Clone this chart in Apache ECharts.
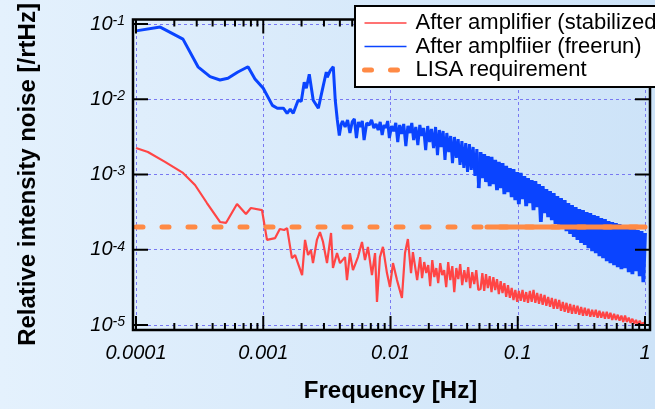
<!DOCTYPE html>
<html><head><meta charset="utf-8">
<script src="https://cdn.jsdelivr.net/npm/echarts@6/dist/echarts.min.js"></script>
<style>html,body{margin:0;padding:0;}#c{width:655px;height:409px;}</style>
</head><body><div id="c"></div>
<script>
// ---------- DATA ----------
const seriesNames = ['After amplifier (stabilized)', 'After amplfiier (freerun)', 'LISA requirement'];
const xTickLabels = ['0.0001', '0.001', '0.01', '0.1', '1'];
const xMajorTicks = [1e-4, 1e-3, 1e-2, 1e-1, 1];
const yMajorTicks = [1e-5, 1e-4, 1e-3, 1e-2, 1e-1];
const minorMultipliers = [2, 3, 4, 5, 6, 7, 8, 9];
const lisaLevel = 2e-4;
const lisaFreqs = [1e-4, 1];
const lisaDenseFreqs = [0.0573, 1];

// stabilized, low-frequency part [freq Hz, RIN /rtHz]
const stabilizedLow = [
[1.0e-4,2.25e-3],[1.24e-4,1.99e-3],[1.69e-4,1.47e-3],[2.34e-4,1.05e-3],[2.91e-4,7.25e-4],[3.61e-4,4.18e-4],
[4.57e-4,2.34e-4],[5.09e-4,2.27e-4],[6.22e-4,4.05e-4],[7.31e-4,2.98e-4],[8.0e-4,3.59e-4],[9.77e-4,3.37e-4],
[1.07e-3,1.35e-4],[1.24e-3,1.43e-4],[1.35e-3,1.89e-4],[1.46e-3,1.83e-4],[1.54e-3,1.94e-4],[1.68e-3,7.75e-5],
[1.78e-3,8.5e-5],[2.02e-3,4.6e-5],[2.13e-3,1.35e-4],[2.25e-3,8.5e-5],[2.37e-3,9.9e-5],[2.46e-3,6.65e-5],
[2.64e-3,1.35e-4],[2.79e-3,1.72e-4],[2.95e-3,1.27e-4],[3.17e-3,6.65e-5],[3.41e-3,1.67e-4],[3.53e-3,5.71e-5],
[3.8e-3,9.03e-5],[4.01e-3,6.65e-5],[4.39e-3,7.99e-5],[4.55e-3,3.95e-5],[4.8e-3,9.03e-5],[5.07e-3,5.37e-5],
[5.55e-3,7.99e-5],[5.97e-3,1.27e-4],[6.3e-3,7.29e-5],[6.65e-3,1.09e-4],[7.15e-3,4.6e-5],[7.56e-3,9.03e-5],
[7.83e-3,2.03e-5],[8.26e-3,7.99e-5],[8.72e-3,1.09e-4],[9.38e-3,4.9e-5],[9.9e-3,3.19e-5],[1.046e-2,6.65e-5],
[1.125e-2,3.95e-5],[1.23e-2,2.29e-5],[1.3e-2,9.03e-5],[1.37e-2,1.39e-4],[1.45e-2,4.9e-5],[1.5e-2,9.31e-5],
[1.62e-2,3.95e-5],[0.0171,7.99e-5],[0.0177,4.2e-5],[0.0184,6.86e-5],[0.0191,4.9e-5],[0.0198,6.26e-5],
[0.0205,3.29e-5],[0.0213,7.29e-5],[0.0221,4.33e-5],[0.0229,5.71e-5],[0.0237,3.6e-5],[0.0246,6.65e-5],
[0.0255,4.6e-5],[0.0264,5.37e-5],[0.0274,3.19e-5],[0.0284,6.86e-5],[0.0295,3.95e-5],[0.0306,6.07e-5],
[0.0317,2.74e-5],[0.0329,5.71e-5],[0.0341,4.07e-5],[0.0353,6.45e-5],[0.0366,3.39e-5],[0.038,5.37e-5],
[0.0394,3.71e-5],[0.0408,5.88e-5],[0.0423,3.1e-5],[0.0439,5.05e-5],[0.0455,3.49e-5],[0.0472,5.37e-5],
[0.049,2.92e-5]
];

// freerun, low-frequency part [freq Hz, RIN /rtHz]
const freerunLow = [
[1.0e-4,8.1e-2],[1.55e-4,9.1e-2],[2.34e-4,6.3e-2],[3.07e-4,2.7e-2],[3.82e-4,2.0e-2],[4.57e-4,1.8e-2],
[5.28e-4,1.9e-2],[6.32e-4,2.3e-2],[7.59e-4,2.7e-2],[8.61e-4,1.86e-2],[1.0e-3,1.4e-2],[1.18e-3,8.3e-3],
[1.29e-3,7.6e-3],[1.44e-3,7.6e-3],[1.54e-3,6.5e-3],[1.63e-3,7.4e-3],[1.72e-3,6.5e-3],[1.88e-3,9.7e-3],
[1.99e-3,9.4e-3],[2.1e-3,1.68e-2],[2.18e-3,1.4e-2],[2.3e-3,2.15e-2],[2.47e-3,9.7e-3],[2.71e-3,7.6e-3],
[2.91e-3,1.32e-2],[3.13e-3,2.3e-2],[3.18e-3,1.96e-2],[3.36e-3,2.4e-2],[3.55e-3,2.7e-2],[3.68e-3,9.7e-3],
[3.82e-3,5.3e-3],[3.96e-3,3.3e-3],
[0.0041,4.69e-3],[0.0042,5.14e-3],[0.0044,4.28e-3],[0.0046,5.3e-3],[0.0048,3.56e-3],[0.0050,4.99e-3],
[0.0052,5.47e-3],[0.0054,3.05e-3],[0.0056,4.99e-3],[0.0058,4.28e-3],[0.0060,5.14e-3],[0.0062,2.87e-3],
[0.0065,4.84e-3],[0.0068,4.55e-3],[0.0071,5.3e-3],[0.0074,4.15e-3],[0.0077,4.69e-3],[0.0080,3.9e-3],
[0.0083,4.99e-3],[0.0086,3.35e-3],[0.0089,4.55e-3],[0.0092,4.15e-3],[0.0095,5.14e-3],[0.0098,3.05e-3],
[0.0102,4.41e-3],[0.0106,3.78e-3],[0.0110,4.84e-3],[0.0114,2.7e-3],[0.0118,4.55e-3],[0.0122,3.45e-3],
[0.0127,4.69e-3],[0.0132,2.39e-3],[0.0137,4.41e-3],[0.0142,3.56e-3],[0.0147,4.84e-3],[0.0152,2.87e-3],
[0.0158,4.28e-3],[0.0164,2.46e-3],[0.0170,4.55e-3],[0.0176,3.25e-3],[0.0182,4.15e-3],[0.0189,2.11e-3],
[0.0196,4.41e-3],[0.0203,2.7e-3],[0.0210,4.02e-3],[0.0218,2.25e-3],[0.0226,4.28e-3],[0.0234,1.81e-3],
[0.0242,3.9e-3],[0.0250,2.32e-3],[0.0259,3.78e-3],[0.0268,1.56e-3],[0.0277,3.56e-3],[0.0287,1.99e-3],
[0.0297,3.25e-3],[0.0307,1.42e-3],[0.0318,3.15e-3],[0.0329,1.66e-3],[0.0340,2.96e-3],[0.0352,1.34e-3],
[0.0364,2.78e-3],[0.0377,1.22e-3],[0.0390,2.62e-3],[0.0403,1.08e-3],[0.0417,2.54e-3],[0.0431,1.15e-3],
[0.0446,2.32e-3],[0.0461,9.55e-4],[0.0477,2.18e-3],[0.0493,6.61e-4]
];

// high-frequency sampling shared by both measured traces
const hfFreq = [
0.051,0.0527,0.0545,0.0563,0.0582,0.0602,0.0622,0.0643,0.0665,0.0687,
0.071,0.0734,0.0759,0.0785,0.0811,0.0838,0.0867,0.0896,0.0926,0.0957,
0.099,0.102,0.1055,0.109,0.1127,0.1165,0.1204,0.1245,0.1287,0.133,
0.1375,0.1421,0.1469,0.1519,0.157,0.1623,0.1678,0.1734,0.1793,0.1853,
0.1916,0.198,0.2047,0.2116,0.2187,0.2261,0.2337,0.2416,0.2497,0.2581,
0.2668,0.2758,0.2851,0.2947,0.3046,0.3149,0.3255,0.3365,0.3478,0.3595,
0.3716,0.3841,0.397,0.4104,0.4242,0.4385,0.4533,0.4685,0.4843,0.5006,
0.5175,0.5349,0.5529,0.5715,0.5908,0.6107,0.6312,0.6525,0.6744,0.6972,
0.7206,0.7449,0.77,0.7959,0.8227,0.8504,0.879,0.9086,0.9392,0.9708,
1.0
];
const stabilizedHF = [
3.0e-5,4.9e-5,2.83e-5,4.75e-5,3.1e-5,4.46e-5,2.74e-5,4.33e-5,2.92e-5,4.07e-5,
2.58e-5,3.83e-5,2.66e-5,3.6e-5,2.36e-5,3.39e-5,2.29e-5,3.1e-5,2.15e-5,2.92e-5,
2.03e-5,2.83e-5,2.09e-5,2.92e-5,2.03e-5,2.74e-5,1.97e-5,2.83e-5,2.03e-5,2.92e-5,
1.97e-5,2.66e-5,1.91e-5,2.58e-5,1.85e-5,2.51e-5,1.8e-5,2.36e-5,1.74e-5,2.29e-5,
1.64e-5,2.22e-5,1.64e-5,2.15e-5,1.54e-5,2.03e-5,1.5e-5,1.97e-5,1.45e-5,1.91e-5,
1.41e-5,1.85e-5,1.41e-5,1.8e-5,1.37e-5,1.74e-5,1.33e-5,1.69e-5,1.33e-5,1.64e-5,
1.29e-5,1.59e-5,1.29e-5,1.59e-5,1.25e-5,1.54e-5,1.25e-5,1.5e-5,1.21e-5,1.5e-5,
1.21e-5,1.45e-5,1.17e-5,1.41e-5,1.17e-5,1.37e-5,1.14e-5,1.33e-5,1.1e-5,1.33e-5,
1.1e-5,1.25e-5,1.07e-5,1.21e-5,1.04e-5,1.17e-5,1.0e-5,1.14e-5,1.0e-5,1.07e-5,
1.04e-5
];
const freerunHF = [
1.99e-3,8.98e-4,1.87e-3,7.95e-4,1.76e-3,7.03e-4,1.71e-3,7.47e-4,1.56e-3,6.22e-4,
1.47e-3,6.61e-4,1.42e-3,5.5e-4,1.3e-3,5.85e-4,1.22e-3,5.02e-4,1.18e-3,4.58e-4,
1.08e-3,4.05e-4,1.05e-3,4.72e-4,9.55e-4,3.81e-4,8.98e-4,4.18e-4,8.45e-4,3.37e-4,
8.19e-4,3.7e-4,7.47e-4,2.34e-4,7.03e-4,3.08e-4,6.41e-4,2.72e-4,6.03e-4,2.48e-4,
5.67e-4,2.2e-4,5.18e-4,2.07e-4,4.87e-4,1.89e-4,4.58e-4,1.77e-4,4.18e-4,1.62e-4,
3.93e-4,1.48e-4,3.7e-4,1.35e-4,3.48e-4,1.23e-4,3.37e-4,1.16e-4,3.17e-4,1.05e-4,
3.08e-4,9.6e-5,2.89e-4,9.03e-5,2.81e-4,8.24e-5,2.64e-4,7.75e-5,2.56e-4,7.07e-5,
2.41e-4,6.65e-5,2.34e-4,6.26e-5,2.27e-4,5.88e-5,2.2e-4,5.53e-5,2.07e-4,5.71e-5,
2.0e-4,5.05e-5,1.94e-4,4.75e-5,1.89e-4,5.2e-5,1.83e-4,4.46e-5,1.77e-4,3.71e-5,
1.67e-4
];

// ---------- BUILD ----------
const stabilized = stabilizedLow.concat(hfFreq.map((f, i) => [f, stabilizedHF[i]]));
const freerunHigh = [freerunLow[freerunLow.length - 1]].concat(hfFreq.map((f, i) => [f, freerunHF[i]]));
const lisa = lisaFreqs.map(f => [f, lisaLevel]);
const lisaDense = lisaDenseFreqs.map(f => [f, lisaLevel]);
const xMinorTicks = [];
[1e-4, 1e-3, 1e-2, 1e-1].forEach(d => minorMultipliers.forEach(m => xMinorTicks.push(+(m * d).toPrecision(3))));

// tick specifications (positioned by the axes' scales inside a custom series)
const tickSpecs = []
  .concat(xMajorTicks.map(v => ({ axis: 'x', x: v, y: 1e-5, len: 14 })))
  .concat(xMinorTicks.map(v => ({ axis: 'x', x: v, y: 1e-5, len: 7 })))
  .concat(yMajorTicks.map(v => ({ axis: 'y', x: 1e-4, y: v, len: 15 })));

const FONT = "'Liberation Sans', Arial, Helvetica, sans-serif";
const RED = '#ff4545', BLUE = '#0a44ff', ORANGE = '#ff8a45';
const gridLine = { show: true, lineStyle: { color: '#7878f2', type: [3, 3], width: 1 } };
const FRAME = { left: 133, top: 19.5, right: 650, bottom: 330 };
const frameEl = {
  id: 'frame', type: 'rect', z: 5, silent: true,
  shape: { x: FRAME.left, y: FRAME.top, width: FRAME.right - FRAME.left, height: FRAME.bottom - FRAME.top },
  style: { fill: 'transparent', stroke: '#000', lineWidth: 2.5 }
};
const seg = (x1, y1, x2, y2) => ({ type: 'line', shape: { x1, y1, x2, y2 }, style: { stroke: '#000', lineWidth: 2 } });

const chart = echarts.init(document.getElementById('c'));
chart.setOption({
  animation: false,
  backgroundColor: new echarts.graphic.LinearGradient(0, 0, 1, 0, [
    { offset: 0, color: '#e4f1fd' }, { offset: 1, color: '#cde3f8' }
  ]),
  grid: { left: 136, right: 10, top: 24, bottom: 84, containLabel: false },
  xAxis: {
    type: 'log', min: 1e-4, max: 1, position: 'bottom', offset: 5,
    axisLine: { show: false }, axisTick: { show: false }, minorTick: { show: false },
    axisLabel: {
      show: true, margin: 13, fontSize: 20, fontStyle: 'italic', color: '#000', fontFamily: FONT,
      formatter: v => xTickLabels[Math.round(Math.log10(v)) + 4]
    },
    splitLine: gridLine,
    name: 'Frequency [Hz]', nameLocation: 'middle', nameGap: 49,
    nameTextStyle: { fontSize: 24, fontWeight: 'bold', color: '#000', fontFamily: FONT }
  },
  yAxis: {
    type: 'log', min: 1e-5, max: 1e-1, position: 'left', offset: 3,
    axisLine: { show: false }, axisTick: { show: false }, minorTick: { show: false },
    axisLabel: {
      show: true, margin: 8, align: 'right',
      formatter: v => '{b|10}{s|' + Math.round(Math.log10(v)) + '}',
      rich: {
        b: { fontSize: 20, lineHeight: 20, fontStyle: 'italic', color: '#000', fontFamily: FONT, padding: [7, 0, 0, 0], verticalAlign: 'bottom' },
        s: { fontSize: 14, lineHeight: 14, fontStyle: 'italic', color: '#000', fontFamily: FONT, verticalAlign: 'top' }
      }
    },
    splitLine: gridLine,
    name: 'Relative intensity noise [/rtHz]', nameLocation: 'middle', nameGap: 93, nameRotate: 90,
    nameTextStyle: { fontSize: 24, fontWeight: 'bold', color: '#000', fontFamily: FONT }
  },
  legend: {
    orient: 'vertical', left: 355, top: 6, z: 10,
    backgroundColor: '#ffffff', borderColor: '#000', borderWidth: 2, borderRadius: 0,
    padding: [6, 8, 6, 7], itemWidth: 42, itemHeight: 14, itemGap: 1.5, selectedMode: false,
    textStyle: { fontSize: 22, color: '#000', fontFamily: FONT, padding: [0, 0, 0, 4] },
    itemStyle: { opacity: 0 },
    data: [
      { name: seriesNames[0], lineStyle: { width: 1.5 }, itemStyle: { opacity: 0 } },
      { name: seriesNames[1], lineStyle: { width: 1.5 }, itemStyle: { opacity: 0 } },
      { name: seriesNames[2], lineStyle: { width: 5, type: [7, 19], cap: 'round' }, itemStyle: { opacity: 0 } }
    ]
  },
  graphic: [frameEl],
  series: [
    { type: 'line', name: seriesNames[0], data: stabilized,
      symbol: 'none', showSymbol: false, color: RED, lineStyle: { color: RED, width: 2.2 }, z: 2 },
    { type: 'line', name: seriesNames[1], data: freerunLow,
      symbol: 'none', showSymbol: false, color: BLUE, lineStyle: { color: BLUE, width: 3 }, z: 2 },
    { type: 'line', name: seriesNames[1], data: freerunHigh,
      symbol: 'none', showSymbol: false, color: BLUE, lineStyle: { color: BLUE, width: 3.8 }, z: 2 },
    { type: 'line', name: seriesNames[2], data: lisa, clip: false,
      symbol: 'none', showSymbol: false, color: ORANGE, lineStyle: { color: ORANGE, width: 5, type: [7, 19], cap: 'round' }, z: 3 },
    { type: 'line', name: 'LISA requirement (dense)', data: lisaDense, clip: false,
      symbol: 'none', showSymbol: false, color: ORANGE, lineStyle: { color: ORANGE, width: 5, cap: 'round' }, z: 3 },
    { type: 'custom', name: 'frame ticks', coordinateSystem: 'cartesian2d', clip: false, silent: true, z: 6,
      data: tickSpecs.map(t => [t.x, t.y]),
      renderItem: (params, api) => {
        const t = tickSpecs[params.dataIndex];
        const p = api.coord([t.x, t.y]);
        if (t.axis === 'x') {
          return { type: 'group', children: [
            seg(p[0], FRAME.bottom, p[0], FRAME.bottom - t.len),
            seg(p[0], FRAME.top, p[0], FRAME.top + t.len)] };
        }
        return { type: 'group', children: [
          seg(FRAME.left, p[1], FRAME.left + t.len, p[1]),
          seg(FRAME.right, p[1], FRAME.right - t.len, p[1])] };
      } }
  ]
});
</script></body></html>
